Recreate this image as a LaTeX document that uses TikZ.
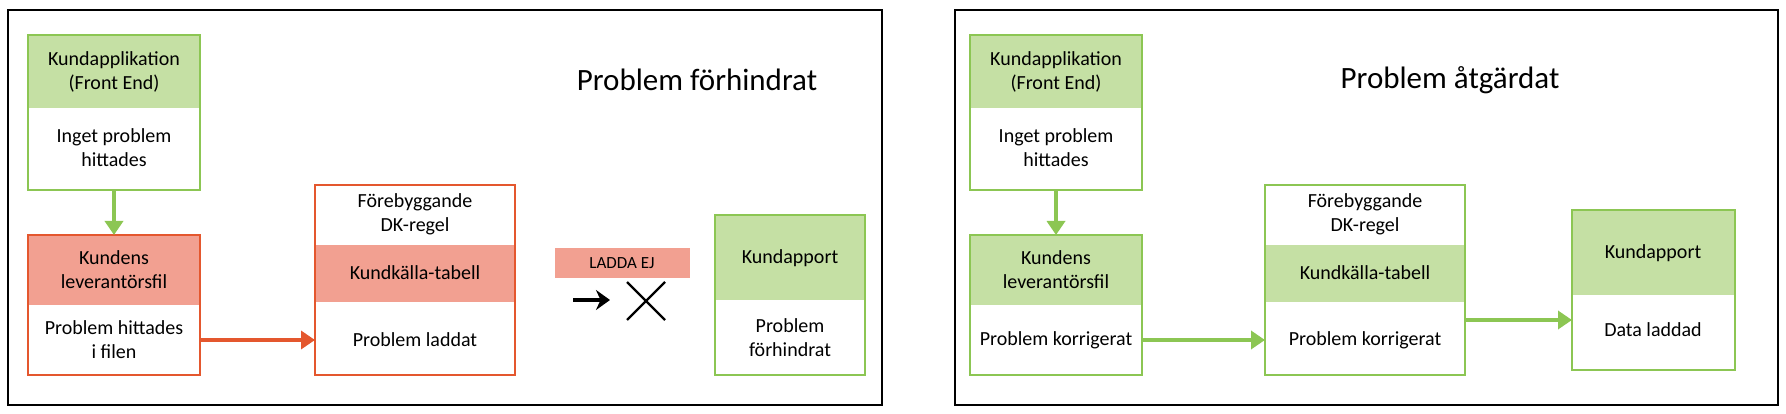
\documentclass[tikz,border=0pt]{standalone}
\usepackage{fontspec}
\setmainfont{Carlito}
\usetikzlibrary{positioning, arrows.meta}
\definecolor{okgreen}{HTML}{8CC653}
\definecolor{okfill}{HTML}{C5E0A4}
\definecolor{errred}{HTML}{E4572E}
\definecolor{errfill}{HTML}{F2A091}
\begin{document}
\begin{tikzpicture}
    [
        x=1pt, y=-1pt,
        every node/.style={font=\fontsize{20}{24}\selectfont, align=center, inner sep=0pt},
        panel/.style={draw=black, line width=2pt},
        green_box/.style={draw=okgreen, line width=2.6pt},
        red_box/.style={draw=errred, line width=2.6pt},
        green_arrow/.style={-{Triangle[length=14pt, width=18pt]}, draw=okgreen, line width=3.5pt},
        red_arrow/.style={-{Triangle[length=14pt, width=18pt]}, draw=errred, line width=3.5pt},
    ]
        \useasboundingbox (0,0) rectangle (1786,414) ;
        \draw[panel] (8,10) rectangle (882,405) ;
        \draw[panel] (955,10) rectangle (1778,405) ;
        % left panel
        \node at (697,80) {\fontsize{31}{37}\selectfont Problem förhindrat} ;
        \fill[okfill] (28,35) rectangle (200,108) ;
        \node (app1) at (114,72) {Kundapplikation\\(Front End)} ;
        \node (app1b) at (114,148) {Inget problem\\hittades} ;
        \draw[green_box] (28,35) rectangle (200,190) ;
        \coordinate (app1s) at (114,190) ;
        \fill[errfill] (28,235) rectangle (200,305) ;
        \node (file1) at (114,270) {Kundens\\leverantörsfil} ;
        \node (file1b) at (114,340) {Problem hittades\\i filen} ;
        \draw[red_box] (28,235) rectangle (200,375) ;
        \coordinate (file1n) at (114,235) ;
        \coordinate (file1e) at (200,340) ;
        \fill[errfill] (315,245) rectangle (515,302) ;
        \node (rule1) at (415,214) {Förebyggande\\DK-regel} ;
        \node (tab1) at (415,273) {Kundkälla-tabell} ;
        \node (tab1b) at (415,340) {Problem laddat} ;
        \draw[red_box] (315,185) rectangle (515,375) ;
        \coordinate (tab1w) at (315,340) ;
        \node[fill=errfill, minimum width=135pt, minimum height=30pt, font=\fontsize{17}{20}\selectfont] (stop) at (622,263) {LADDA EJ} ;
        \coordinate (stopa) at (573,300) ;
        \coordinate (stopb) at (610,300) ;
        \draw[-{Stealth[length=14pt, width=20pt]}, line width=4.5pt] (stopa) -- (stopb) ;
        \draw[line width=2.4pt] (627,282) -- (665,320) (627,320) -- (665,282) ;
        \fill[okfill] (715,215) rectangle (865,300) ;
        \node (rep1) at (790,258) {Kundapport} ;
        \node (rep1b) at (790,338) {Problem\\förhindrat} ;
        \draw[green_box] (715,215) rectangle (865,375) ;
        \draw[green_arrow] (app1s) -- (file1n) ;
        \draw[red_arrow] (file1e) -- (tab1w) ;
        % right panel
        \node at (1450,80) {\fontsize{31}{37}\selectfont Problem åtgärdat} ;
        \fill[okfill] (970,35) rectangle (1142,108) ;
        \node (app2) at (1056,72) {Kundapplikation\\(Front End)} ;
        \node (app2b) at (1056,148) {Inget problem\\hittades} ;
        \draw[green_box] (970,35) rectangle (1142,190) ;
        \coordinate (app2s) at (1056,190) ;
        \fill[okfill] (970,235) rectangle (1142,305) ;
        \node (file2) at (1056,270) {Kundens\\leverantörsfil} ;
        \node (file2b) at (1056,340) {Problem korrigerat} ;
        \draw[green_box] (970,235) rectangle (1142,375) ;
        \coordinate (file2n) at (1056,235) ;
        \coordinate (file2e) at (1142,340) ;
        \fill[okfill] (1265,245) rectangle (1465,302) ;
        \node (rule2) at (1365,214) {Förebyggande\\DK-regel} ;
        \node (tab2) at (1365,273) {Kundkälla-tabell} ;
        \node (tab2b) at (1365,340) {Problem korrigerat} ;
        \draw[green_box] (1265,185) rectangle (1465,375) ;
        \coordinate (tab2w) at (1265,340) ;
        \coordinate (tab2e) at (1465,320) ;
        \fill[okfill] (1572,210) rectangle (1735,295) ;
        \node (rep2) at (1653,253) {Kundapport} ;
        \node (rep2b) at (1653,330) {Data laddad} ;
        \draw[green_box] (1572,210) rectangle (1735,370) ;
        \coordinate (rep2w) at (1572,320) ;
        \draw[green_arrow] (app2s) -- (file2n) ;
        \draw[green_arrow] (file2e) -- (tab2w) ;
        \draw[green_arrow] (tab2e) -- (rep2w) ;
    \end{tikzpicture}
\end{document}
